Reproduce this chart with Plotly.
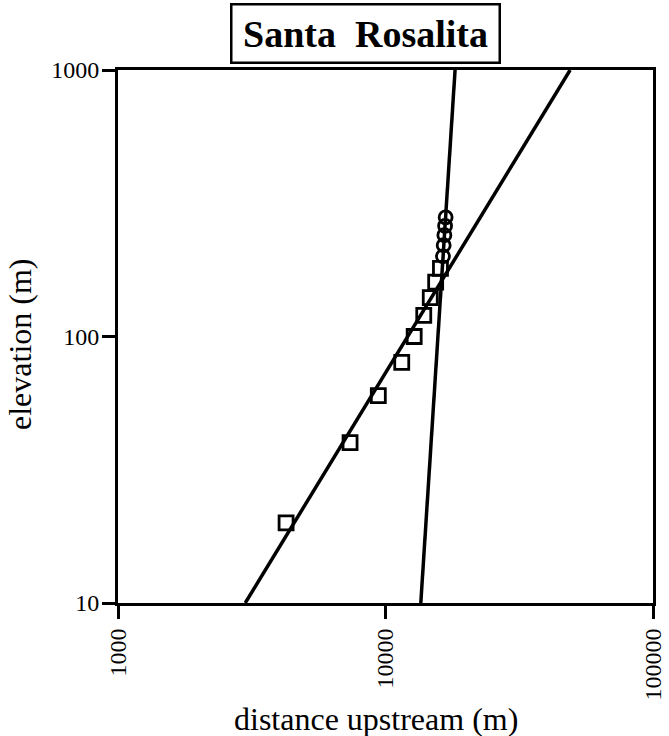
import plotly.graph_objects as go

# Channel profile points: distance upstream (m) vs elevation (m)
square_dist = [4250, 7370, 9400, 11500, 12800, 13900, 14700, 15400, 16050]
square_elev = [20, 40, 60, 80, 100, 120, 140, 160, 180]

circle_dist = [16400, 16500, 16600, 16700, 16780]
circle_elev = [200, 220, 240, 260, 280]

# Power-law fit lines (end points at the axis limits)
fit_lower_dist = [2990, 49000]
fit_lower_elev = [10, 1000]
fit_upper_dist = [13550, 18200]
fit_upper_elev = [10, 1000]

x_ticks = [1000, 10000, 100000]
x_tick_text = ["1000", "10000", "100000"]
y_ticks = [10, 100, 1000]
y_tick_text = ["10", "100", "1000"]

SERIF = "Liberation Serif"
W, H = 669, 736
L, R, T, B = 118, 16, 70, 133
PW, PH = W - L - R, H - T - B

fig = go.Figure()

fig.add_trace(go.Scatter(
    x=fit_lower_dist, y=fit_lower_elev, mode="lines",
    line=dict(color="black", width=3.5), showlegend=False, hoverinfo="skip"))
fig.add_trace(go.Scatter(
    x=fit_upper_dist, y=fit_upper_elev, mode="lines",
    line=dict(color="black", width=3.5), showlegend=False, hoverinfo="skip"))

fig.add_trace(go.Scatter(
    x=square_dist, y=square_elev, mode="markers",
    marker=dict(symbol="square-open", size=14, color="black",
                line=dict(color="black", width=2.8)),
    showlegend=False))
fig.add_trace(go.Scatter(
    x=circle_dist, y=circle_elev, mode="markers",
    marker=dict(symbol="circle-open", size=13, color="black",
                line=dict(color="black", width=2.8)),
    showlegend=False))

# Boxed title sitting on the top frame
fig.add_annotation(
    text="<b>Santa  Rosalita</b>", xref="paper", yref="paper",
    x=(365 - L) / PW, y=1.0, xanchor="center", yanchor="bottom", yshift=6,
    showarrow=False, font=dict(family=SERIF, size=38, color="black"),
    bordercolor="black", borderwidth=2.5, borderpad=2,
    bgcolor="white", width=262, height=52)

# Axis titles
fig.add_annotation(
    text="distance upstream (m)", xref="paper", yref="paper",
    x=(376 - L) / PW, y=-(719 - T - PH) / PH, xanchor="center", yanchor="middle",
    showarrow=False, font=dict(family=SERIF, size=32, color="black"))
fig.add_annotation(
    text="elevation (m)", xref="paper", yref="paper", textangle=-90,
    x=-(L - 20) / PW, y=1 - (345 - T) / PH, xanchor="center", yanchor="middle",
    showarrow=False, font=dict(family=SERIF, size=32, color="black"))

axis_common = dict(
    type="log", showgrid=False, zeroline=False,
    showline=True, linecolor="black", linewidth=3, mirror=True,
    ticks="outside", ticklen=13, tickwidth=3, tickcolor="black",
    tickfont=dict(family=SERIF, size=24, color="black"),
)

fig.update_xaxes(
    **axis_common, range=[3, 5], tickvals=x_ticks, ticktext=x_tick_text,
    tickangle=-90)
fig.update_yaxes(
    **axis_common, range=[1, 3], tickvals=y_ticks, ticktext=y_tick_text,
    ticklabelstandoff=-2)

fig.update_layout(
    width=W, height=H,
    margin=dict(l=L, r=R, t=T, b=B, autoexpand=False),
    paper_bgcolor="white", plot_bgcolor="white",
)

fig.write_html("out.html")
